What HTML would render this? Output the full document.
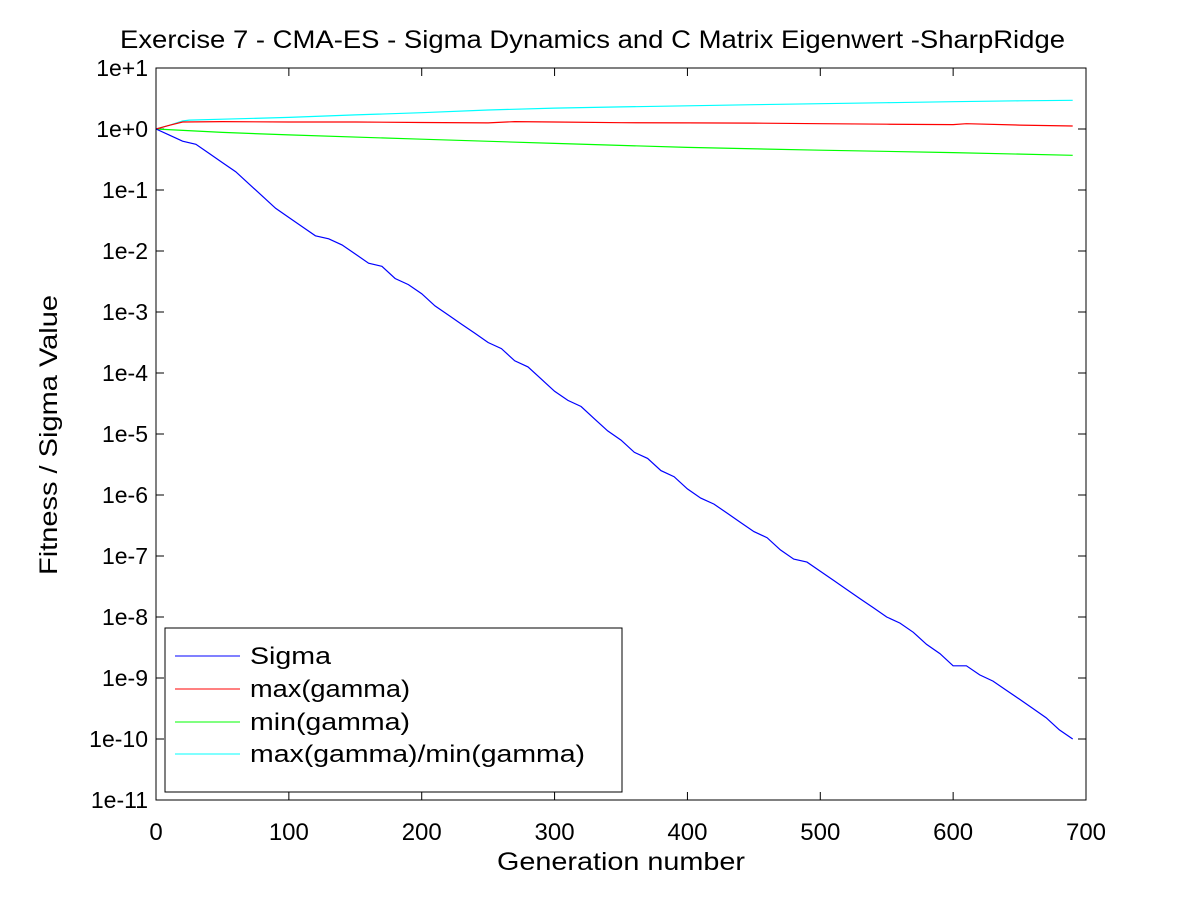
<!DOCTYPE html>
<html><head><meta charset="utf-8"><style>
body{margin:0;background:#fff}
svg{display:block;font-family:"Liberation Sans",sans-serif}
</style></head><body>
<svg id="chart" width="1200" height="900">
<rect width="1200" height="900" fill="#fff"/>
<text x="120" y="48" textLength="945" lengthAdjust="spacingAndGlyphs" font-size="25">Exercise 7 - CMA-ES - Sigma Dynamics and C Matrix Eigenwert -SharpRidge</text>
<text x="497" y="870" textLength="248" lengthAdjust="spacingAndGlyphs" font-size="25">Generation number</text>
<text transform="translate(57,575) rotate(-90)" textLength="280" lengthAdjust="spacingAndGlyphs" font-size="25">Fitness / Sigma Value</text>
<g id="axes"></g>
<g id="series"></g>
<rect x="156" y="68" width="930" height="732" fill="none" stroke="#000" stroke-width="1"/>
<g>
<rect x="165" y="628" width="457" height="164" fill="#fff" stroke="#000"/>
<line x1="175" y1="656" x2="240" y2="656" stroke="#0000ff"/>
<text x="250" y="664" font-size="24" textLength="81" lengthAdjust="spacingAndGlyphs">Sigma</text>
<line x1="175" y1="689" x2="240" y2="689" stroke="#ff0000"/>
<text x="250" y="697" font-size="24" textLength="160" lengthAdjust="spacingAndGlyphs">max(gamma)</text>
<line x1="175" y1="722" x2="240" y2="722" stroke="#00ff00"/>
<text x="250" y="730" font-size="24" textLength="160" lengthAdjust="spacingAndGlyphs">min(gamma)</text>
<line x1="175" y1="754" x2="240" y2="754" stroke="#00ffff"/>
<text x="250" y="762" font-size="24" textLength="335" lengthAdjust="spacingAndGlyphs">max(gamma)/min(gamma)</text>
</g>
</svg>
<script>
const generations = [0,10,20,30,40,50,60,70,80,90,100,110,120,130,140,150,160,170,180,190,200,210,220,230,240,250,260,270,280,290,300,310,320,330,340,350,360,370,380,390,400,410,420,430,440,450,460,470,480,490,500,510,520,530,540,550,560,570,580,590,600,610,620,630,640,650,660,670,680,690];
const sigmaLog = [0,-0.1,-0.2,-0.25,-0.4,-0.55,-0.7,-0.9,-1.1,-1.3,-1.45,-1.6,-1.75,-1.8,-1.9,-2.05,-2.2,-2.25,-2.45,-2.55,-2.7,-2.9,-3.05,-3.2,-3.35,-3.5,-3.6,-3.8,-3.9,-4.1,-4.3,-4.45,-4.55,-4.75,-4.95,-5.1,-5.3,-5.4,-5.6,-5.7,-5.9,-6.05,-6.15,-6.3,-6.45,-6.6,-6.7,-6.9,-7.05,-7.1,-7.25,-7.4,-7.55,-7.7,-7.85,-8,-8.1,-8.25,-8.45,-8.6,-8.8,-8.8,-8.95,-9.05,-9.2,-9.35,-9.5,-9.65,-9.85,-10];
const maxGammaGens = [0,10,20,50,100,150,200,250,270,300,350,400,450,500,550,600,610,650,690];
const maxGamma = [1,1.15,1.3,1.32,1.3,1.3,1.28,1.26,1.32,1.3,1.27,1.26,1.25,1.22,1.2,1.18,1.22,1.16,1.12];
const minGammaGens = [0,50,100,200,300,400,500,600,690];
const minGamma = [1,0.88,0.8,0.68,0.58,0.5,0.45,0.41,0.37];
const ratioGens = [0,10,20,25,50,100,150,200,250,300,350,400,450,500,550,600,650,690];
const ratio = [1,1.15,1.35,1.4,1.45,1.55,1.7,1.85,2.05,2.2,2.3,2.4,2.5,2.6,2.7,2.8,2.9,2.95];
const xTicks = [0,100,200,300,400,500,600,700];
const yTickExps = [1,0,-1,-2,-3,-4,-5,-6,-7,-8,-9,-10,-11];
const yTickLabels = ["1e+1","1e+0","1e-1","1e-2","1e-3","1e-4","1e-5","1e-6","1e-7","1e-8","1e-9","1e-10","1e-11"];

const X0=156,X1=1086,Y0=68,Y1=800;
const xs = g => X0 + (g/700)*(X1-X0);
const ysLog = l => Y0 + (1-l)/12*(Y1-Y0);
const ys = v => ysLog(Math.log10(v));
const NS="http://www.w3.org/2000/svg";
const axes=document.getElementById('axes'), series=document.getElementById('series');
function mk(tag,attrs,parent){const e=document.createElementNS(NS,tag);for(const k in attrs)e.setAttribute(k,attrs[k]);parent.appendChild(e);return e;}
xTicks.forEach(t=>{
  const x=xs(t);
  const l1=mk('line',{x1:x,y1:Y1,x2:x,y2:Y1-8,stroke:'#000'},axes);
  
  
  const l2=mk('line',{x1:x,y1:Y0,x2:x,y2:Y0+8,stroke:'#000'},axes);
  
  
  const tx=mk('text',{x:x,y:Y1+40,'text-anchor':'middle','font-size':24},axes);
  tx.textContent=t;
  
  
});
yTickExps.forEach((e,i)=>{
  const y=ysLog(e);
  const l1=mk('line',{x1:X0,y1:y,x2:X0+8,y2:y,stroke:'#000'},axes);
  
  
  const l2=mk('line',{x1:X1,y1:y,x2:X1-8,y2:y,stroke:'#000'},axes);
  
  
  const tx=mk('text',{x:X0-8,y:y+8,'text-anchor':'end','font-size':23},axes);
  tx.textContent=yTickLabels[i];
  
  
});
function line(gs,vals,f,color,name){
  const d=gs.map((g,i)=>(i?'L':'M')+xs(g).toFixed(1)+','+f(vals[i]).toFixed(1)).join('');
  const p=mk('path',{d:d,fill:'none',stroke:color,'stroke-width':1.2},series);
  
  
}
line(ratioGens,ratio,ys,'#00ffff','ratio-line');
line(minGammaGens,minGamma,ys,'#00ff00','min-gamma-line');
line(maxGammaGens,maxGamma,ys,'#ff0000','max-gamma-line');
line(generations,sigmaLog,ysLog,'#0000ff','sigma-line');
</script>
</body></html>
